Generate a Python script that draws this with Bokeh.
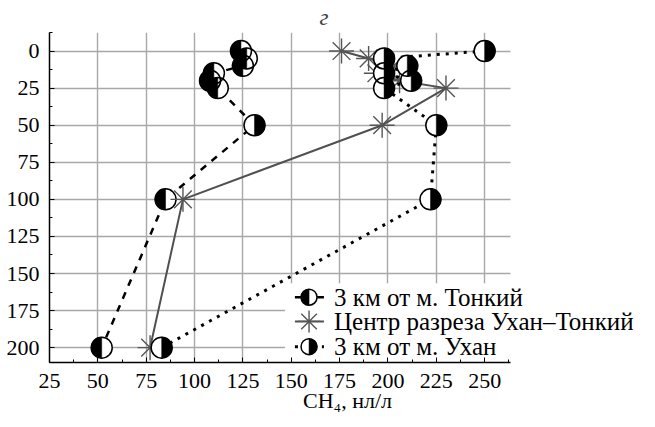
import numpy as np
from bokeh.plotting import figure
from bokeh.models import Range1d, SingleIntervalTicker, Grid
from bokeh.core.properties import value
from bokeh.embed import file_html
from bokeh.resources import INLINE

# ---- data ----
depth = [0, 5, 10, 15, 20, 25, 50, 100, 200]
ch4_tonkiy = [124, 127, 125, 110, 108, 112, 131, 85, 52]
ch4_center = [176, 190, 203, 194, 206, 230, 197, 94, 77]
ch4_ukhan = [250, 198, 210, 198, 212, 198, 225, 222, 83]
series_labels = ["3 км от м. Тонкий", "Центр разреза Ухан\u2013Тонкий", "3 км от м. Ухан"]
x_label = "CH\u2084, нл/л"
panel_title = "г"

# which half of the circle marker is black (style)
tonkiy_sides = ["left"] * 6 + ["right"] + ["left"] * 2
ukhan_sides = ["right"] * 9

FONT = "Liberation Serif"
FS = "22px"
W, H = 645, 426
PX_PER_X = 1.934
X_START, X_AXIS_END = 25, 263.5
X_END = X_START + (W - 49) / PX_PER_X
Y_TOP, Y_BOTTOM = -12.5, 210

p = figure(width=W, height=H, output_backend="svg", toolbar_location=None,
           x_range=Range1d(X_START, X_END), y_range=Range1d(Y_BOTTOM, Y_TOP),
           min_border_left=49, min_border_right=0, min_border_top=28,
           min_border_bottom=H - 28 - 334)
p.outline_line_color = None
p.background_fill_color = "white"
p.border_fill_color = "white"

# title
p.title.text = panel_title
p.title.text_font = FONT
p.title.text_font_style = "italic"
p.title.text_font_size = "23px"
p.title.align = "left"
p.title.offset = 270
p.title.standoff = 5

# axes
xa = p.xaxis[0]
ya = p.yaxis[0]
for ax in (xa, ya):
    ax.ticker = SingleIntervalTicker(interval=25, num_minor_ticks=2)
    ax.major_label_text_font = FONT
    ax.major_label_text_font_size = FS
    ax.major_label_text_color = "black"
    ax.axis_line_color = "black"
    ax.axis_line_width = 1.5
    ax.major_tick_in = 5
    ax.major_tick_out = 0
    ax.minor_tick_in = 3
    ax.minor_tick_out = 0
    ax.major_tick_line_color = "black"
    ax.minor_tick_line_color = "black"
xa.bounds = (X_START, X_AXIS_END)
xa.axis_label = x_label
xa.axis_label_text_font = FONT
xa.axis_label_text_font_size = FS
xa.axis_label_text_font_style = "normal"
xa.axis_label_text_color = "black"
xa.axis_label_standoff = -3
xa.major_label_standoff = 11
ya.major_label_standoff = 10

# grid
p.xgrid.ticker = SingleIntervalTicker(interval=25)
p.ygrid.ticker = SingleIntervalTicker(interval=25)
p.xgrid.bounds = (X_START, X_AXIS_END)
for g in (p.xgrid, p.ygrid):
    g.grid_line_color = "#a8a8a8"
    g.grid_line_width = 1.4
if "cross_bounds" in Grid.properties():
    p.ygrid.cross_bounds = (X_START, X_AXIS_END)

# legend layout (placement expressed in data units)
LEG_X0, LEG_Y0 = 146.8, 156.5
LX0, LX1, LXM, LXT = 151.9, 166.9, 159.2, 172.1
LY = [166.0, 182.3, 199.3]

# legend background
p.quad(left=[LEG_X0], right=[X_END], top=[LEG_Y0], bottom=[Y_BOTTOM],
       fill_color="white", line_color=None)


def half_circles(xs, ys, sides, size):
    starts = [np.pi / 2 if s == "left" else -np.pi / 2 for s in sides]
    ends = [3 * np.pi / 2 if s == "left" else np.pi / 2 for s in sides]
    p.scatter(xs, ys, marker="circle", size=size, fill_color="white", line_color=None)
    p.wedge(xs, ys, radius=size / 2, radius_units="screen", start_angle=starts,
            end_angle=ends, direction="anticlock", fill_color="black",
            line_color="black", line_width=0.5)
    p.scatter(xs, ys, marker="circle", size=size, fill_color=None,
              line_color="black", line_width=1.5)


def stars(xs, ys, size):
    p.scatter(xs, ys, marker="asterisk", size=size, line_color="#555555", line_width=1.4)


# series 1: 3 km from Tonkiy
p.line(ch4_tonkiy, depth, line_color="black", line_width=2.5, line_dash="7 7")
half_circles(ch4_tonkiy, depth, tonkiy_sides, 21)
# series 2: centre of the section
p.line(ch4_center, depth, line_color="#505050", line_width=2)
stars(ch4_center, depth, 25)
# series 3: 3 km from Ukhan
p.line(ch4_ukhan, depth, line_color="black", line_width=3, line_dash="3 6")
half_circles(ch4_ukhan, depth, ukhan_sides, 21)

# manual legend
p.line([LX0, LX1], [LY[0], LY[0]], line_color="black", line_width=2.5)
half_circles([LXM], [LY[0]], ["left"], 16)
p.line([LX0, LX1], [LY[1], LY[1]], line_color="#505050", line_width=2)
stars([LXM], [LY[1]], 22)
p.line([LX0, LX1], [LY[2], LY[2]], line_color="black", line_width=3, line_dash="3 6")
half_circles([LXM], [LY[2]], ["right"], 16)
p.text([LXT] * 3, LY, text=series_labels, text_font=value(FONT), text_font_size="25px",
       text_baseline="middle", text_align="left", text_color="black")

open("out.html", "w").write(file_html(p, INLINE))
